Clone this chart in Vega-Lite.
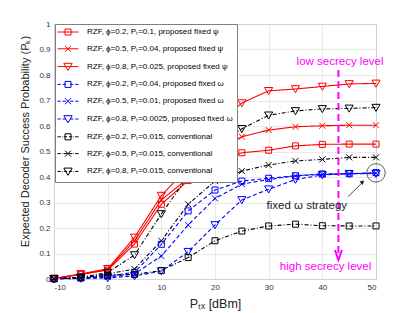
{
  "$schema": "https://vega.github.io/schema/vega-lite/v6.json",
  "width": 322,
  "height": 255,
  "autosize": "none",
  "padding": {"left": 54, "top": 24, "right": 39, "bottom": 34},
  "config": {
    "font": "Liberation Sans",
    "view": {"stroke": "#8c8c8c", "strokeWidth": 1},
    "axis": {
      "domain": false,
      "ticks": false,
      "grid": true,
      "gridColor": "#e3e3e3",
      "gridWidth": 0.8,
      "labelOverlap": false,
      "labelFont": "Liberation Sans",
      "labelFontSize": 8,
      "labelColor": "#333333",
      "titleFont": "Liberation Sans",
      "titleFontWeight": "normal",
      "titleColor": "#222222"
    }
  },
  "datasets": {
    "curves": [
      {"series": "RZF, ϕ=0.2, Pₜ=0.1, proposed fixed ψ", "x": -10, "y": 0.002},
      {"series": "RZF, ϕ=0.2, Pₜ=0.1, proposed fixed ψ", "x": -5, "y": 0.018},
      {"series": "RZF, ϕ=0.2, Pₜ=0.1, proposed fixed ψ", "x": 0, "y": 0.035},
      {"series": "RZF, ϕ=0.2, Pₜ=0.1, proposed fixed ψ", "x": 5, "y": 0.137},
      {"series": "RZF, ϕ=0.2, Pₜ=0.1, proposed fixed ψ", "x": 10, "y": 0.293},
      {"series": "RZF, ϕ=0.2, Pₜ=0.1, proposed fixed ψ", "x": 15, "y": 0.386},
      {"series": "RZF, ϕ=0.2, Pₜ=0.1, proposed fixed ψ", "x": 20, "y": 0.454},
      {"series": "RZF, ϕ=0.2, Pₜ=0.1, proposed fixed ψ", "x": 25, "y": 0.495},
      {"series": "RZF, ϕ=0.2, Pₜ=0.1, proposed fixed ψ", "x": 30, "y": 0.505},
      {"series": "RZF, ϕ=0.2, Pₜ=0.1, proposed fixed ψ", "x": 35, "y": 0.522},
      {"series": "RZF, ϕ=0.2, Pₜ=0.1, proposed fixed ψ", "x": 40, "y": 0.528},
      {"series": "RZF, ϕ=0.2, Pₜ=0.1, proposed fixed ψ", "x": 45, "y": 0.529},
      {"series": "RZF, ϕ=0.2, Pₜ=0.1, proposed fixed ψ", "x": 50, "y": 0.529},
      {"series": "RZF, ϕ=0.5, Pₜ=0.04, proposed fixed ψ", "x": -10, "y": 0.002},
      {"series": "RZF, ϕ=0.5, Pₜ=0.04, proposed fixed ψ", "x": -5, "y": 0.018},
      {"series": "RZF, ϕ=0.5, Pₜ=0.04, proposed fixed ψ", "x": 0, "y": 0.037},
      {"series": "RZF, ϕ=0.5, Pₜ=0.04, proposed fixed ψ", "x": 5, "y": 0.15},
      {"series": "RZF, ϕ=0.5, Pₜ=0.04, proposed fixed ψ", "x": 10, "y": 0.31},
      {"series": "RZF, ϕ=0.5, Pₜ=0.04, proposed fixed ψ", "x": 15, "y": 0.395},
      {"series": "RZF, ϕ=0.5, Pₜ=0.04, proposed fixed ψ", "x": 20, "y": 0.5},
      {"series": "RZF, ϕ=0.5, Pₜ=0.04, proposed fixed ψ", "x": 25, "y": 0.558},
      {"series": "RZF, ϕ=0.5, Pₜ=0.04, proposed fixed ψ", "x": 30, "y": 0.584},
      {"series": "RZF, ϕ=0.5, Pₜ=0.04, proposed fixed ψ", "x": 35, "y": 0.597},
      {"series": "RZF, ϕ=0.5, Pₜ=0.04, proposed fixed ψ", "x": 40, "y": 0.601},
      {"series": "RZF, ϕ=0.5, Pₜ=0.04, proposed fixed ψ", "x": 45, "y": 0.603},
      {"series": "RZF, ϕ=0.5, Pₜ=0.04, proposed fixed ψ", "x": 50, "y": 0.603},
      {"series": "RZF, ϕ=0.8, Pₜ=0.025, proposed fixed ψ", "x": -10, "y": 0.002},
      {"series": "RZF, ϕ=0.8, Pₜ=0.025, proposed fixed ψ", "x": -5, "y": 0.02},
      {"series": "RZF, ϕ=0.8, Pₜ=0.025, proposed fixed ψ", "x": 0, "y": 0.04},
      {"series": "RZF, ϕ=0.8, Pₜ=0.025, proposed fixed ψ", "x": 5, "y": 0.163},
      {"series": "RZF, ϕ=0.8, Pₜ=0.025, proposed fixed ψ", "x": 10, "y": 0.327},
      {"series": "RZF, ϕ=0.8, Pₜ=0.025, proposed fixed ψ", "x": 15, "y": 0.438},
      {"series": "RZF, ϕ=0.8, Pₜ=0.025, proposed fixed ψ", "x": 20, "y": 0.6},
      {"series": "RZF, ϕ=0.8, Pₜ=0.025, proposed fixed ψ", "x": 25, "y": 0.69},
      {"series": "RZF, ϕ=0.8, Pₜ=0.025, proposed fixed ψ", "x": 30, "y": 0.738},
      {"series": "RZF, ϕ=0.8, Pₜ=0.025, proposed fixed ψ", "x": 35, "y": 0.745},
      {"series": "RZF, ϕ=0.8, Pₜ=0.025, proposed fixed ψ", "x": 40, "y": 0.755},
      {"series": "RZF, ϕ=0.8, Pₜ=0.025, proposed fixed ψ", "x": 45, "y": 0.765},
      {"series": "RZF, ϕ=0.8, Pₜ=0.025, proposed fixed ψ", "x": 50, "y": 0.767},
      {"series": "RZF, ϕ=0.2, Pₜ=0.04, proposed fixed ω", "x": -10, "y": 0.001},
      {"series": "RZF, ϕ=0.2, Pₜ=0.04, proposed fixed ω", "x": -5, "y": 0.004},
      {"series": "RZF, ϕ=0.2, Pₜ=0.04, proposed fixed ω", "x": 0, "y": 0.012},
      {"series": "RZF, ϕ=0.2, Pₜ=0.04, proposed fixed ω", "x": 5, "y": 0.026},
      {"series": "RZF, ϕ=0.2, Pₜ=0.04, proposed fixed ω", "x": 10, "y": 0.136},
      {"series": "RZF, ϕ=0.2, Pₜ=0.04, proposed fixed ω", "x": 15, "y": 0.267},
      {"series": "RZF, ϕ=0.2, Pₜ=0.04, proposed fixed ω", "x": 20, "y": 0.349},
      {"series": "RZF, ϕ=0.2, Pₜ=0.04, proposed fixed ω", "x": 25, "y": 0.384},
      {"series": "RZF, ϕ=0.2, Pₜ=0.04, proposed fixed ω", "x": 30, "y": 0.395},
      {"series": "RZF, ϕ=0.2, Pₜ=0.04, proposed fixed ω", "x": 35, "y": 0.405},
      {"series": "RZF, ϕ=0.2, Pₜ=0.04, proposed fixed ω", "x": 40, "y": 0.412},
      {"series": "RZF, ϕ=0.2, Pₜ=0.04, proposed fixed ω", "x": 45, "y": 0.413},
      {"series": "RZF, ϕ=0.2, Pₜ=0.04, proposed fixed ω", "x": 50, "y": 0.417},
      {"series": "RZF, ϕ=0.5, Pₜ=0.01, proposed fixed ω", "x": -10, "y": 0.001},
      {"series": "RZF, ϕ=0.5, Pₜ=0.01, proposed fixed ω", "x": -5, "y": 0.003},
      {"series": "RZF, ϕ=0.5, Pₜ=0.01, proposed fixed ω", "x": 0, "y": 0.008},
      {"series": "RZF, ϕ=0.5, Pₜ=0.01, proposed fixed ω", "x": 5, "y": 0.02},
      {"series": "RZF, ϕ=0.5, Pₜ=0.01, proposed fixed ω", "x": 10, "y": 0.09},
      {"series": "RZF, ϕ=0.5, Pₜ=0.01, proposed fixed ω", "x": 15, "y": 0.212},
      {"series": "RZF, ϕ=0.5, Pₜ=0.01, proposed fixed ω", "x": 20, "y": 0.316},
      {"series": "RZF, ϕ=0.5, Pₜ=0.01, proposed fixed ω", "x": 25, "y": 0.372},
      {"series": "RZF, ϕ=0.5, Pₜ=0.01, proposed fixed ω", "x": 30, "y": 0.39},
      {"series": "RZF, ϕ=0.5, Pₜ=0.01, proposed fixed ω", "x": 35, "y": 0.405},
      {"series": "RZF, ϕ=0.5, Pₜ=0.01, proposed fixed ω", "x": 40, "y": 0.41},
      {"series": "RZF, ϕ=0.5, Pₜ=0.01, proposed fixed ω", "x": 45, "y": 0.413},
      {"series": "RZF, ϕ=0.5, Pₜ=0.01, proposed fixed ω", "x": 50, "y": 0.415},
      {"series": "RZF, ϕ=0.8, Pₜ=0.0025, proposed fixed ω", "x": -10, "y": 0.0},
      {"series": "RZF, ϕ=0.8, Pₜ=0.0025, proposed fixed ω", "x": -5, "y": 0.002},
      {"series": "RZF, ϕ=0.8, Pₜ=0.0025, proposed fixed ω", "x": 0, "y": 0.004},
      {"series": "RZF, ϕ=0.8, Pₜ=0.0025, proposed fixed ω", "x": 5, "y": 0.012},
      {"series": "RZF, ϕ=0.8, Pₜ=0.0025, proposed fixed ω", "x": 10, "y": 0.031},
      {"series": "RZF, ϕ=0.8, Pₜ=0.0025, proposed fixed ω", "x": 15, "y": 0.107},
      {"series": "RZF, ϕ=0.8, Pₜ=0.0025, proposed fixed ω", "x": 20, "y": 0.212},
      {"series": "RZF, ϕ=0.8, Pₜ=0.0025, proposed fixed ω", "x": 25, "y": 0.31},
      {"series": "RZF, ϕ=0.8, Pₜ=0.0025, proposed fixed ω", "x": 30, "y": 0.352},
      {"series": "RZF, ϕ=0.8, Pₜ=0.0025, proposed fixed ω", "x": 35, "y": 0.39},
      {"series": "RZF, ϕ=0.8, Pₜ=0.0025, proposed fixed ω", "x": 40, "y": 0.408},
      {"series": "RZF, ϕ=0.8, Pₜ=0.0025, proposed fixed ω", "x": 45, "y": 0.413},
      {"series": "RZF, ϕ=0.8, Pₜ=0.0025, proposed fixed ω", "x": 50, "y": 0.413},
      {"series": "RZF, ϕ=0.2, Pₜ=0.015, conventional", "x": -10, "y": 0.001},
      {"series": "RZF, ϕ=0.2, Pₜ=0.015, conventional", "x": -5, "y": 0.005},
      {"series": "RZF, ϕ=0.2, Pₜ=0.015, conventional", "x": 0, "y": 0.015},
      {"series": "RZF, ϕ=0.2, Pₜ=0.015, conventional", "x": 5, "y": 0.018},
      {"series": "RZF, ϕ=0.2, Pₜ=0.015, conventional", "x": 10, "y": 0.033},
      {"series": "RZF, ϕ=0.2, Pₜ=0.015, conventional", "x": 15, "y": 0.084},
      {"series": "RZF, ϕ=0.2, Pₜ=0.015, conventional", "x": 20, "y": 0.15},
      {"series": "RZF, ϕ=0.2, Pₜ=0.015, conventional", "x": 25, "y": 0.188},
      {"series": "RZF, ϕ=0.2, Pₜ=0.015, conventional", "x": 30, "y": 0.208},
      {"series": "RZF, ϕ=0.2, Pₜ=0.015, conventional", "x": 35, "y": 0.215},
      {"series": "RZF, ϕ=0.2, Pₜ=0.015, conventional", "x": 40, "y": 0.209},
      {"series": "RZF, ϕ=0.2, Pₜ=0.015, conventional", "x": 45, "y": 0.208},
      {"series": "RZF, ϕ=0.2, Pₜ=0.015, conventional", "x": 50, "y": 0.208},
      {"series": "RZF, ϕ=0.5, Pₜ=0.015, conventional", "x": -10, "y": 0.001},
      {"series": "RZF, ϕ=0.5, Pₜ=0.015, conventional", "x": -5, "y": 0.006},
      {"series": "RZF, ϕ=0.5, Pₜ=0.015, conventional", "x": 0, "y": 0.02},
      {"series": "RZF, ϕ=0.5, Pₜ=0.015, conventional", "x": 5, "y": 0.039},
      {"series": "RZF, ϕ=0.5, Pₜ=0.015, conventional", "x": 10, "y": 0.15},
      {"series": "RZF, ϕ=0.5, Pₜ=0.015, conventional", "x": 15, "y": 0.293},
      {"series": "RZF, ϕ=0.5, Pₜ=0.015, conventional", "x": 20, "y": 0.384},
      {"series": "RZF, ϕ=0.5, Pₜ=0.015, conventional", "x": 25, "y": 0.423},
      {"series": "RZF, ϕ=0.5, Pₜ=0.015, conventional", "x": 30, "y": 0.447},
      {"series": "RZF, ϕ=0.5, Pₜ=0.015, conventional", "x": 35, "y": 0.463},
      {"series": "RZF, ϕ=0.5, Pₜ=0.015, conventional", "x": 40, "y": 0.469},
      {"series": "RZF, ϕ=0.5, Pₜ=0.015, conventional", "x": 45, "y": 0.477},
      {"series": "RZF, ϕ=0.5, Pₜ=0.015, conventional", "x": 50, "y": 0.477},
      {"series": "RZF, ϕ=0.8, Pₜ=0.015, conventional", "x": -10, "y": 0.001},
      {"series": "RZF, ϕ=0.8, Pₜ=0.015, conventional", "x": -5, "y": 0.007},
      {"series": "RZF, ϕ=0.8, Pₜ=0.015, conventional", "x": 0, "y": 0.025},
      {"series": "RZF, ϕ=0.8, Pₜ=0.015, conventional", "x": 5, "y": 0.094},
      {"series": "RZF, ϕ=0.8, Pₜ=0.015, conventional", "x": 10, "y": 0.255},
      {"series": "RZF, ϕ=0.8, Pₜ=0.015, conventional", "x": 15, "y": 0.404},
      {"series": "RZF, ϕ=0.8, Pₜ=0.015, conventional", "x": 20, "y": 0.52},
      {"series": "RZF, ϕ=0.8, Pₜ=0.015, conventional", "x": 25, "y": 0.589},
      {"series": "RZF, ϕ=0.8, Pₜ=0.015, conventional", "x": 30, "y": 0.642},
      {"series": "RZF, ϕ=0.8, Pₜ=0.015, conventional", "x": 35, "y": 0.659},
      {"series": "RZF, ϕ=0.8, Pₜ=0.015, conventional", "x": 40, "y": 0.667},
      {"series": "RZF, ϕ=0.8, Pₜ=0.015, conventional", "x": 45, "y": 0.669},
      {"series": "RZF, ϕ=0.8, Pₜ=0.015, conventional", "x": 50, "y": 0.672}
    ],
    "secrecyArrow": [{"x": 43, "y": 0.82, "y2": 0.08}],
    "secrecyHead": [{"x": 43, "y": 0.094}],
    "secrecyText": [
      {"label": "low secrecy level", "x": 43.3, "y": 0.85},
      {"label": "high secrecy level", "x": 40.6, "y": 0.048}
    ],
    "omegaText": [{"label": "fixed ω strategy", "x": 37.1, "y": 0.286}],
    "omegaArrow": [{"x": 44.8, "y": 0.323, "x2": 47.5, "y2": 0.379}],
    "omegaHead": [{"x": 47.5, "y": 0.381}],
    "omegaCircle": [{"x": 50, "y": 0.416}]
  },
  "encoding": {
    "x": {
      "field": "x", "type": "quantitative",
      "scale": {"domain": [-10, 50], "nice": false},
      "axis": {
        "values": [-10, 0, 10, 20, 30, 40, 50],
        "labelExpr": "toString(datum.value)",
        "labelOverlap": false,
        "labelPadding": 4,
        "title": "Pₜₓ [dBm]",
        "titleFontSize": 12.5,
        "titlePadding": 6
      }
    },
    "y": {
      "field": "y", "type": "quantitative",
      "scale": {"domain": [0, 1], "nice": false},
      "axis": {
        "values": [0, 0.1, 0.2, 0.3, 0.4, 0.5, 0.6, 0.7, 0.8, 0.9, 1],
        "tickCount": 11,
        "labelExpr": "toString(round(datum.value * 10) / 10)",
        "labelOverlap": false,
        "labelPadding": 4,
        "title": "Expected Decoder Success Probability (Pₖ)",
        "titleFontSize": 11,
        "titlePadding": 8,
        "titleY": 117
      }
    }
  },
  "layer": [
    {
      "data": {"name": "curves"},
      "mark": {"type": "line", "strokeWidth": 1.1},
      "encoding": {
        "color": {
          "field": "series", "type": "nominal", "legend": null,
          "scale": {
            "domain": ["RZF, ϕ=0.2, Pₜ=0.1, proposed fixed ψ", "RZF, ϕ=0.5, Pₜ=0.04, proposed fixed ψ", "RZF, ϕ=0.8, Pₜ=0.025, proposed fixed ψ", "RZF, ϕ=0.2, Pₜ=0.04, proposed fixed ω", "RZF, ϕ=0.5, Pₜ=0.01, proposed fixed ω", "RZF, ϕ=0.8, Pₜ=0.0025, proposed fixed ω", "RZF, ϕ=0.2, Pₜ=0.015, conventional", "RZF, ϕ=0.5, Pₜ=0.015, conventional", "RZF, ϕ=0.8, Pₜ=0.015, conventional"],
            "range": ["#ff0000", "#ff0000", "#ff0000", "#0000ff", "#0000ff", "#0000ff", "#000000", "#000000", "#000000"]
          }
        },
        "strokeDash": {
          "field": "series", "type": "nominal", "legend": null,
          "scale": {
            "domain": ["RZF, ϕ=0.2, Pₜ=0.1, proposed fixed ψ", "RZF, ϕ=0.5, Pₜ=0.04, proposed fixed ψ", "RZF, ϕ=0.8, Pₜ=0.025, proposed fixed ψ", "RZF, ϕ=0.2, Pₜ=0.04, proposed fixed ω", "RZF, ϕ=0.5, Pₜ=0.01, proposed fixed ω", "RZF, ϕ=0.8, Pₜ=0.0025, proposed fixed ω", "RZF, ϕ=0.2, Pₜ=0.015, conventional", "RZF, ϕ=0.5, Pₜ=0.015, conventional", "RZF, ϕ=0.8, Pₜ=0.015, conventional"],
            "range": [[1, 0], [1, 0], [1, 0], [4, 2.5], [4, 2.5], [4, 2.5], [4, 2, 1, 2], [4, 2, 1, 2], [4, 2, 1, 2]]
          }
        }
      }
    },
    {
      "data": {"name": "curves"},
      "mark": {"type": "point", "filled": false, "opacity": 1, "size": 36, "strokeWidth": 1},
      "encoding": {
        "color": {"field": "series", "type": "nominal", "legend": null},
        "shape": {
          "field": "series", "type": "nominal", "legend": null,
          "scale": {
            "domain": ["RZF, ϕ=0.2, Pₜ=0.1, proposed fixed ψ", "RZF, ϕ=0.5, Pₜ=0.04, proposed fixed ψ", "RZF, ϕ=0.8, Pₜ=0.025, proposed fixed ψ", "RZF, ϕ=0.2, Pₜ=0.04, proposed fixed ω", "RZF, ϕ=0.5, Pₜ=0.01, proposed fixed ω", "RZF, ϕ=0.8, Pₜ=0.0025, proposed fixed ω", "RZF, ϕ=0.2, Pₜ=0.015, conventional", "RZF, ϕ=0.5, Pₜ=0.015, conventional", "RZF, ϕ=0.8, Pₜ=0.015, conventional"],
            "range": ["M-1,-1H1V1H-1Z", "M-1,-1L1,1M-1,1L1,-1", "M-1.35,-1.1H1.35L0,1.25Z", "M-1,-1H1V1H-1Z", "M-1,-1L1,1M-1,1L1,-1", "M-1.35,-1.1H1.35L0,1.25Z", "M-1,-1H1V1H-1Z", "M-1,-1L1,1M-1,1L1,-1", "M-1.35,-1.1H1.35L0,1.25Z"]
          }
        }
      }
    },
    {
      "data": {"name": "curves"},
      "transform": [{"filter": "false"}],
      "mark": {"type": "point", "filled": false, "opacity": 1, "strokeWidth": 1},
      "encoding": {
        "stroke": {
          "field": "series", "type": "nominal",
          "scale": {
            "domain": ["RZF, ϕ=0.2, Pₜ=0.1, proposed fixed ψ", "RZF, ϕ=0.5, Pₜ=0.04, proposed fixed ψ", "RZF, ϕ=0.8, Pₜ=0.025, proposed fixed ψ", "RZF, ϕ=0.2, Pₜ=0.04, proposed fixed ω", "RZF, ϕ=0.5, Pₜ=0.01, proposed fixed ω", "RZF, ϕ=0.8, Pₜ=0.0025, proposed fixed ω", "RZF, ϕ=0.2, Pₜ=0.015, conventional", "RZF, ϕ=0.5, Pₜ=0.015, conventional", "RZF, ϕ=0.8, Pₜ=0.015, conventional"],
            "range": ["#ff0000", "#ff0000", "#ff0000", "#0000ff", "#0000ff", "#0000ff", "#000000", "#000000", "#000000"]
          },
          "legend": {
            "title": null, "orient": "none", "legendX": 1, "legendY": 0,
            "padding": 4, "rowPadding": 6.8, "symbolSize": 36, "symbolStrokeWidth": 1,
            "symbolOffset": 5, "labelOffset": 15, "labelFontSize": 8, "labelFont": "Liberation Sans",
            "labelColor": "#000000", "labelLimit": 300, "strokeColor": "#7f7f7f", "fillColor": "#ffffff"
          }
        },
        "shape": {
          "field": "series", "type": "nominal",
          "scale": {
            "domain": ["RZF, ϕ=0.2, Pₜ=0.1, proposed fixed ψ", "RZF, ϕ=0.5, Pₜ=0.04, proposed fixed ψ", "RZF, ϕ=0.8, Pₜ=0.025, proposed fixed ψ", "RZF, ϕ=0.2, Pₜ=0.04, proposed fixed ω", "RZF, ϕ=0.5, Pₜ=0.01, proposed fixed ω", "RZF, ϕ=0.8, Pₜ=0.0025, proposed fixed ω", "RZF, ϕ=0.2, Pₜ=0.015, conventional", "RZF, ϕ=0.5, Pₜ=0.015, conventional", "RZF, ϕ=0.8, Pₜ=0.015, conventional"],
            "range": [
              "M-3.5,0H3.5M-1,-1H1V1H-1Z",
              "M-3.5,0H3.5M-1,-1L1,1M-1,1L1,-1",
              "M-3.5,0H3.5M-1.4,-1.1H1.4L0,1.3Z",
              "M-3.5,0H-2.4M-1.8,0H-0.7M0.7,0H1.8M2.4,0H3.5M-1,-1H1V1H-1Z",
              "M-3.5,0H-2.4M-1.8,0H-0.7M0.7,0H1.8M2.4,0H3.5M-1,-1L1,1M-1,1L1,-1",
              "M-3.5,0H-2.4M-1.8,0H-0.7M0.7,0H1.8M2.4,0H3.5M-1.4,-1.1H1.4L0,1.3Z",
              "M-3.5,0H-2.4M-2,0H-1.8M-1.4,0H-0.3M0.3,0H1.4M1.8,0H2M2.4,0H3.5M-1,-1H1V1H-1Z",
              "M-3.5,0H-2.4M-2,0H-1.8M-1.4,0H-0.3M0.3,0H1.4M1.8,0H2M2.4,0H3.5M-1,-1L1,1M-1,1L1,-1",
              "M-3.5,0H-2.4M-2,0H-1.8M-1.4,0H-0.3M0.3,0H1.4M1.8,0H2M2.4,0H3.5M-1.4,-1.1H1.4L0,1.3Z"
            ]
          },
          "legend": {
            "title": null, "orient": "none", "legendX": 1, "legendY": 0,
            "padding": 4, "rowPadding": 6.8, "symbolSize": 36, "symbolStrokeWidth": 1,
            "symbolOffset": 5, "labelOffset": 15, "labelFontSize": 8, "labelFont": "Liberation Sans",
            "labelColor": "#000000", "labelLimit": 300, "strokeColor": "#7f7f7f", "fillColor": "#ffffff"
          }
        }
      }
    },
    {
      "data": {"name": "secrecyArrow"},
      "mark": {"type": "rule", "color": "#ff00ff", "strokeWidth": 2, "strokeDash": [7, 4]},
      "encoding": {
        "y2": {"field": "y2"}
      }
    },
    {
      "data": {"name": "secrecyHead"},
      "mark": {"type": "point", "shape": "M-0.7,-1L0,1L0.7,-1", "size": 100, "filled": false, "opacity": 1, "color": "#ff00ff", "strokeWidth": 2},
      "encoding": {}
    },
    {
      "data": {"name": "secrecyText"},
      "mark": {"type": "text", "color": "#ff00ff", "fontSize": 11.5, "font": "Liberation Sans", "align": "center", "baseline": "middle"},
      "encoding": {
        "text": {"field": "label"}
      }
    },
    {
      "data": {"name": "omegaText"},
      "mark": {"type": "text", "color": "#1a1a1a", "fontSize": 11.5, "font": "Liberation Sans", "align": "center", "baseline": "middle"},
      "encoding": {
        "text": {"field": "label"}
      }
    },
    {
      "data": {"name": "omegaArrow"},
      "mark": {"type": "rule", "color": "#1a1a1a", "strokeWidth": 0.8},
      "encoding": {
        "x2": {"field": "x2"},
        "y2": {"field": "y2"}
      }
    },
    {
      "data": {"name": "omegaHead"},
      "mark": {"type": "point", "shape": "triangle-up", "size": 22, "filled": true, "opacity": 1, "color": "#1a1a1a", "angle": 45},
      "encoding": {}
    },
    {
      "data": {"name": "omegaCircle"},
      "mark": {"type": "point", "shape": "circle", "size": 340, "filled": false, "opacity": 1, "color": "#333333", "strokeWidth": 0.8},
      "encoding": {}
    }
  ],
  "resolve": {
    "scale": {"shape": "independent", "stroke": "independent"},
    "legend": {"shape": "independent", "stroke": "independent"}
  }
}
